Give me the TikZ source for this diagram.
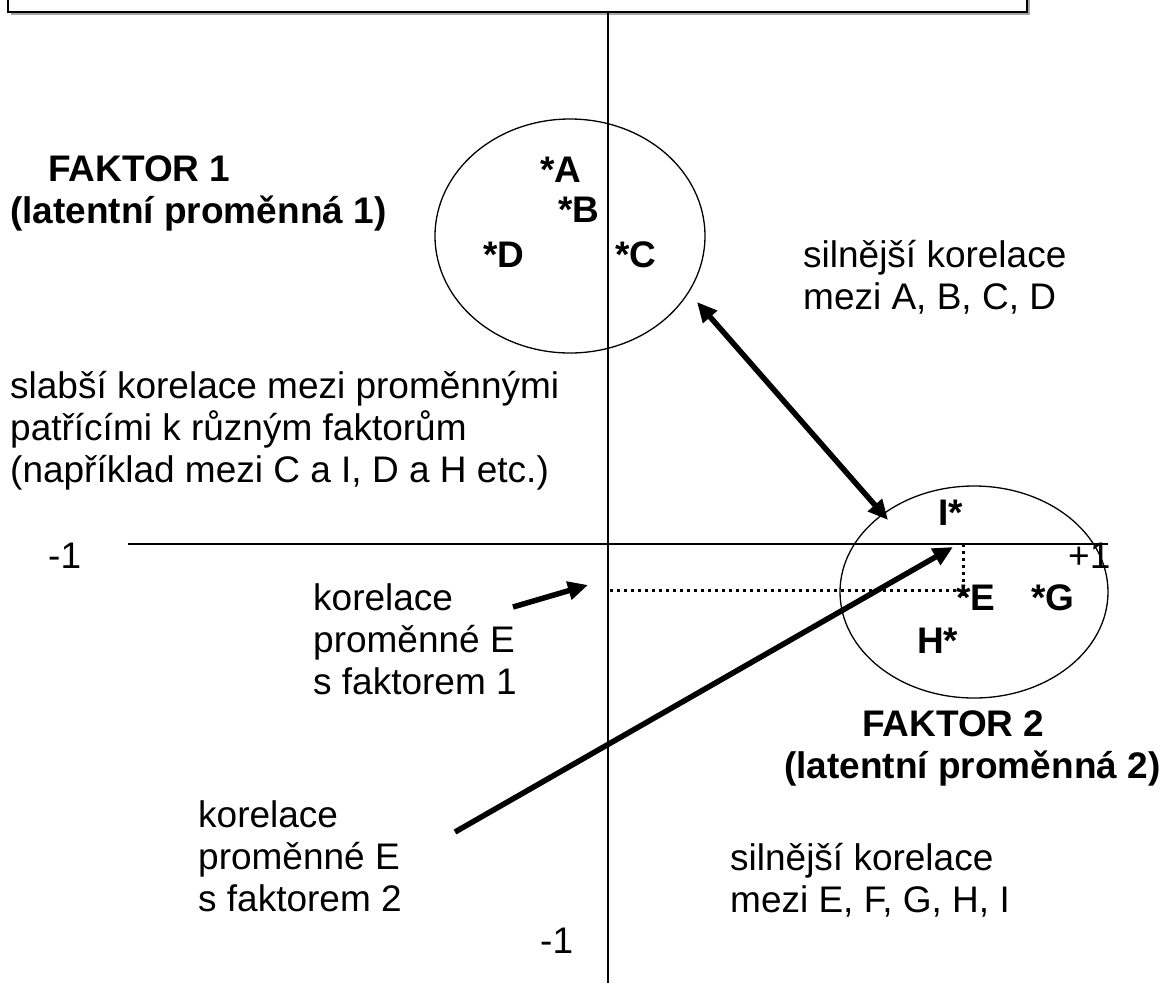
\documentclass[tikz,border=0pt]{standalone}
\usepackage{fontspec}
\setmainfont{Liberation Sans}
\usetikzlibrary{arrows.meta,shapes.geometric}
\tikzstyle{txt} = [inner sep=0pt, anchor=base west, align=left,
    font=\fontsize{37}{42}\selectfont]
\tikzstyle{btxt} = [txt, font=\fontsize{37}{42}\selectfont\bfseries]
\tikzstyle{factor} = [ellipse, draw, line width=1.3pt, inner sep=0pt]
\tikzstyle{axis} = [draw, line width=1.6pt]
\tikzstyle{proj} = [draw, line width=3pt, dash pattern=on 3pt off 4pt]
\tikzstyle{line} = [draw, line width=5.5pt, -{Triangle[length=20pt,width=18pt]}]

\begin{document}
\begin{tikzpicture}[x=1pt,y=-1pt]
    \useasboundingbox (0,0) rectangle (1167,983);
    \clip (0,0) rectangle (1167,983);
    % Top box
    \fill [gray!70] (11,-40) rectangle (1030,15);
    \draw [fill=white, line width=1.6pt] (8,-40) rectangle (1027,12);
    % Axes
    \draw [axis] (608,12) -- (608,983);
    \draw [axis] (128,544) -- (1108,544);
    % Factors
    \node [factor, minimum width=270pt, minimum height=234pt] (f1) at (570,236) {};
    \node [factor, minimum width=268pt, minimum height=212pt] (f2) at (974,592) {};
    % Place nodes (multi-line nodes sit on their last line)
    \node [btxt] (fak1) at (10,223) {\hspace*{38pt}FAKTOR 1\\(latentní proměnná 1)};
    \node [btxt] (ptA) at (540,182) {*A};
    \node [btxt] (ptB) at (558,222) {*B};
    \node [btxt] (ptD) at (483,267) {*D};
    \node [btxt] (ptC) at (615,267) {*C};
    \node [txt] (silne1) at (803,309) {silnější korelace\\mezi A, B, C, D};
    \node [txt] (slabe) at (10,482) {slabší korelace mezi proměnnými\\patřícími k různým faktorům\\(například mezi C a I, D a H etc.)};
    \node [btxt] (ptI) at (938,525) {I*};
    \node [txt] (minx) at (48,568) {-1};
    \node [txt] (plusx) at (1068,568) {+1};
    \node [btxt] (ptE) at (956,610) {*E};
    \node [btxt] (ptG) at (1031,610) {*G};
    \node [btxt] (ptH) at (917,653) {H*};
    \node [txt] (korel1) at (313,694) {korelace\\proměnné E\\s faktorem 1};
    \node [btxt] (fak2) at (784,778) {\hspace*{78pt}FAKTOR 2\\(latentní proměnná 2)};
    \node [txt] (korel2) at (198,911) {korelace\\proměnné E\\s faktorem 2};
    \node [txt] (silne2) at (730,912) {silnější korelace\\mezi E, F, G, H, I};
    \node [txt] (miny) at (540,953) {-1};
    % Projection of E
    \coordinate (eH) at (610,590);
    \coordinate (eE) at (960,590);
    \coordinate (eV) at (963,544);
    \coordinate (eB) at (963,598);
    \draw [proj] (eH) -- (eE);
    \draw [proj] (eV) -- (eB);
    % Draw edges
    \coordinate (top1) at (697,302);
    \coordinate (top2) at (888,520);
    \coordinate (k1s) at (513,607);
    \coordinate (k1e) at (588,585);
    \coordinate (k2s) at (455,832);
    \coordinate (k2e) at (953,547);
    \path [line, {Triangle[length=20pt,width=18pt]}-{Triangle[length=20pt,width=18pt]}] (top1) -- (top2);
    \path [line] (k1s) -- (k1e);
    \path [line] (k2s) -- (k2e);
\end{tikzpicture}
\end{document}
